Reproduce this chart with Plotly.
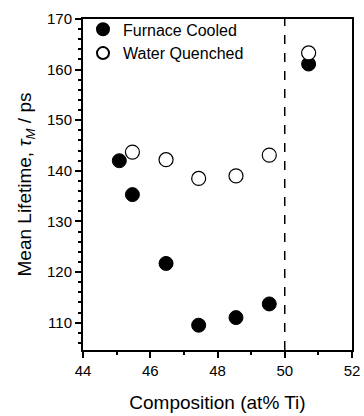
import plotly.graph_objects as go

fc_x = [45.08, 45.47, 46.47, 47.44, 48.55, 49.54, 50.71]
fc_y = [142.0, 135.3, 121.7, 109.5, 111.0, 113.7, 161.1]
wq_x = [45.47, 46.47, 47.44, 48.55, 49.54, 50.71]
wq_y = [143.7, 142.2, 138.5, 139.0, 143.1, 163.3]
boundary_x = 50
x_range = [44, 52]
y_range = [104.6, 170]

font = "Liberation Sans, Arial, sans-serif"

fig = go.Figure()
fig.add_trace(go.Scatter(x=fc_x, y=fc_y, mode="markers", name="Furnace Cooled",
                         marker=dict(size=14, color="black", line=dict(color="black", width=1))))
fig.add_trace(go.Scatter(x=wq_x, y=wq_y, mode="markers", name="Water Quenched",
                         marker=dict(size=14, color="white", line=dict(color="black", width=1.2))))

fig.add_shape(type="line", x0=boundary_x, x1=boundary_x, y0=0, y1=1, xref="x", yref="paper",
              line=dict(color="black", width=1.5, dash="dash"))

axis_common = dict(showline=True, linewidth=2, linecolor="black", mirror=True,
                   ticks="outside", ticklen=6, tickwidth=1.5, tickcolor="black",
                   showgrid=False, zeroline=False, automargin=False,
                   tickfont=dict(family=font, size=15, color="black"))

fig.update_layout(
    width=364, height=416,
    margin=dict(l=83, r=12, t=13, b=66),
    plot_bgcolor="white", paper_bgcolor="white",
    showlegend=True,
    xaxis=dict(range=x_range, tickmode="linear", dtick=2, tick0=44,
               minor=dict(dtick=1, tick0=44, ticks="outside", ticklen=3, tickwidth=1.5, tickcolor="black"),
               title=dict(text="Composition (at% Ti)", font=dict(family=font, size=19, color="black"), standoff=18),
               **axis_common),
    yaxis=dict(range=y_range, tickmode="linear", dtick=10, tick0=110,
               minor=dict(dtick=2, tick0=110, ticks="outside", ticklen=3, tickwidth=1.5, tickcolor="black"),
               title=dict(text="Mean Lifetime, <i>τ<sub>M</sub></i> / ps", font=dict(family=font, size=19, color="black"), standoff=10),
               **axis_common),
    legend=dict(x=0.0, y=1.02, xanchor="left", yanchor="top", bgcolor="rgba(0,0,0,0)",
                font=dict(family=font, size=16, color="black"), itemsizing="constant",
                tracegroupgap=0),
)

fig.write_html("out.html")
